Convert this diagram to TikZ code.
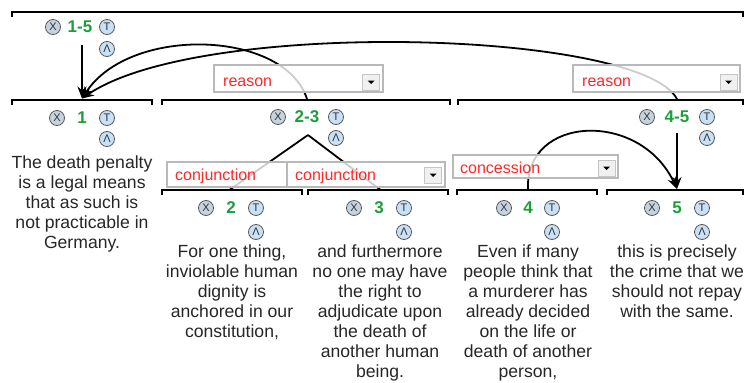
\documentclass[tikz,border=0pt]{standalone}
\usepackage{fontspec}
\setmainfont{Liberation Sans}
\usetikzlibrary{arrows.meta}
\definecolor{numgreen}{RGB}{28,158,58}
\definecolor{relred}{RGB}{255,40,40}
\definecolor{xfill}{RGB}{197,211,224}
\definecolor{tfill}{RGB}{200,225,246}
\tikzstyle{bar} = [line width=2.5pt]
\tikzstyle{arrow} = [line width=1.8pt,-{Stealth[length=12pt,width=9pt]}]
\tikzstyle{link} = [line width=1.8pt]
\tikzstyle{relbox} = [rectangle, draw=gray!55, line width=1.5pt, fill=white, fill opacity=0.8, text opacity=1, inner sep=0pt]
\tikzstyle{rellabel} = [anchor=west, text=relred, font=\fontsize{16}{16}\selectfont, inner sep=0pt]
\tikzstyle{dropbtn} = [rectangle, draw=gray!45, line width=1pt, fill=gray!12, minimum width=17pt, minimum height=16pt, inner sep=0pt]
\tikzstyle{badge} = [circle, draw=gray!70!black, line width=0.8pt, minimum size=15pt, inner sep=0pt, font=\fontsize{11}{11}\selectfont, text=black!80]
\tikzstyle{xbadge} = [badge, fill=xfill]
\tikzstyle{tbadge} = [badge, fill=tfill]
\tikzstyle{num} = [text=numgreen, font=\bfseries\fontsize{17}{17}\selectfont, inner sep=0pt]
\tikzstyle{argtext} = [align=center, anchor=north, inner sep=0pt, text=black!85, font=\fontsize{17.6}{20}\selectfont]

\begin{document}
\begin{tikzpicture}[x=1pt, y=-1pt]
\useasboundingbox (0,0) rectangle (745,383);

% attachment points on the bars
\coordinate (top_1) at (82,98.5);
\coordinate (top_23) at (307,99);
\coordinate (top_45) at (677,99);
\coordinate (top_2) at (230,189.5);
\coordinate (top_3) at (380,189.5);
\coordinate (top_4) at (528,189);
\coordinate (top_5) at (677,189);
\coordinate (foot_all) at (82,45);
\coordinate (foot_45) at (677,133);
\coordinate (apex_23) at (308,135);

% connectors (behind the relation boxes)
\draw [arrow] (foot_all) -- (top_1);
\draw [arrow] (top_23) .. controls (285,30) and (130,25) .. (top_1);
\draw [arrow] (top_45) .. controls (640,30) and (200,18) .. (top_1);
\draw [arrow] (foot_45) -- (top_5);
\draw [arrow] (top_4) .. controls (525,115) and (640,110) .. (top_5);
\draw [link] (apex_23) -- (top_2);
\draw [link] (apex_23) -- (top_3);

% relation boxes
\node [relbox, minimum width=169pt, minimum height=27pt] (reason_a) at (298.5,78.5) {};
\node [rellabel] (lbl_reason_a) at (223,82) {reason};
\node [dropbtn] (btn_a) at (371,82) {};
\node [relbox, minimum width=167pt, minimum height=27pt] (reason_b) at (656.5,78.5) {};
\node [rellabel] (lbl_reason_b) at (582,82) {reason};
\node [dropbtn] (btn_b) at (728.5,82) {};
\node [relbox, minimum width=165pt, minimum height=23pt] (concession) at (535.5,166.5) {};
\node [rellabel] (lbl_concession) at (460,168) {concession};
\node [dropbtn] (btn_c) at (606.5,168) {};
\node [relbox, minimum width=120pt, minimum height=25pt] (conj_a) at (227,174.5) {};
\node [rellabel] (lbl_conj_a) at (175,176) {conjunction};
\node [relbox, minimum width=158pt, minimum height=25pt] (conj_b) at (366,174.5) {};
\node [rellabel] (lbl_conj_b) at (295,176) {conjunction};
\node [dropbtn] (btn_d) at (433,175) {};
\foreach \b in {btn_a, btn_b, btn_c, btn_d}
  \fill ([xshift=-3.5pt,yshift=1.5pt]\b.center) -- ++(7pt,0pt) -- ++(-3.5pt,-3.5pt) -- cycle;

% bars
\foreach \xa/\xb/\yy in {12/743/12, 12/152/100, 162/450/100, 458/743/100,
    162/302/190, 308/448/190, 457/597/190, 607/743/190}
  \draw [bar] (\xa,\yy+5) |- (\xb,\yy) -- (\xb,\yy+5);

% labels: name/number/x/y/half spread/lambda drop
\foreach \n/\lbl/\xx/\yy/\dx/\dy in {all/1-5/80/27/27/22, 1/1/82/118/25/21,
    23/2-3/307/117/29/21, 45/4-5/677/117/30/21, 2/2/231/208/25/24,
    3/3/379/208/25/24, 4/4/528/208/24/24, 5/5/677/208/25/24} {
  \node [num] (num_\n) at (\xx,\yy) {\lbl};
  \node [xbadge] (x_\n) at (\xx-\dx,\yy) {X};
  \node [tbadge] (t_\n) at (\xx+\dx,\yy) {T};
  \node [tbadge] (lam_\n) at (\xx+\dx,\yy+\dy) {Λ};
}

% argument texts
\node [argtext] (text_1) at (82,156) {The death penalty\\is a legal means\\that as such is\\not practicable in\\Germany.};
\node [argtext] (text_2) at (232,245) {For one thing,\\inviolable human\\dignity is\\anchored in our\\constitution,};
\node [argtext] (text_3) at (380,245) {and furthermore\\no one may have\\the right to\\adjudicate upon\\the death of\\another human\\being.};
\node [argtext] (text_4) at (528,245) {Even if many\\people think that\\a murderer has\\already decided\\on the life or\\death of another\\person,};
\node [argtext] (text_5) at (677,245) {this is precisely\\the crime that we\\should not repay\\with the same.};

\end{tikzpicture}
\end{document}
